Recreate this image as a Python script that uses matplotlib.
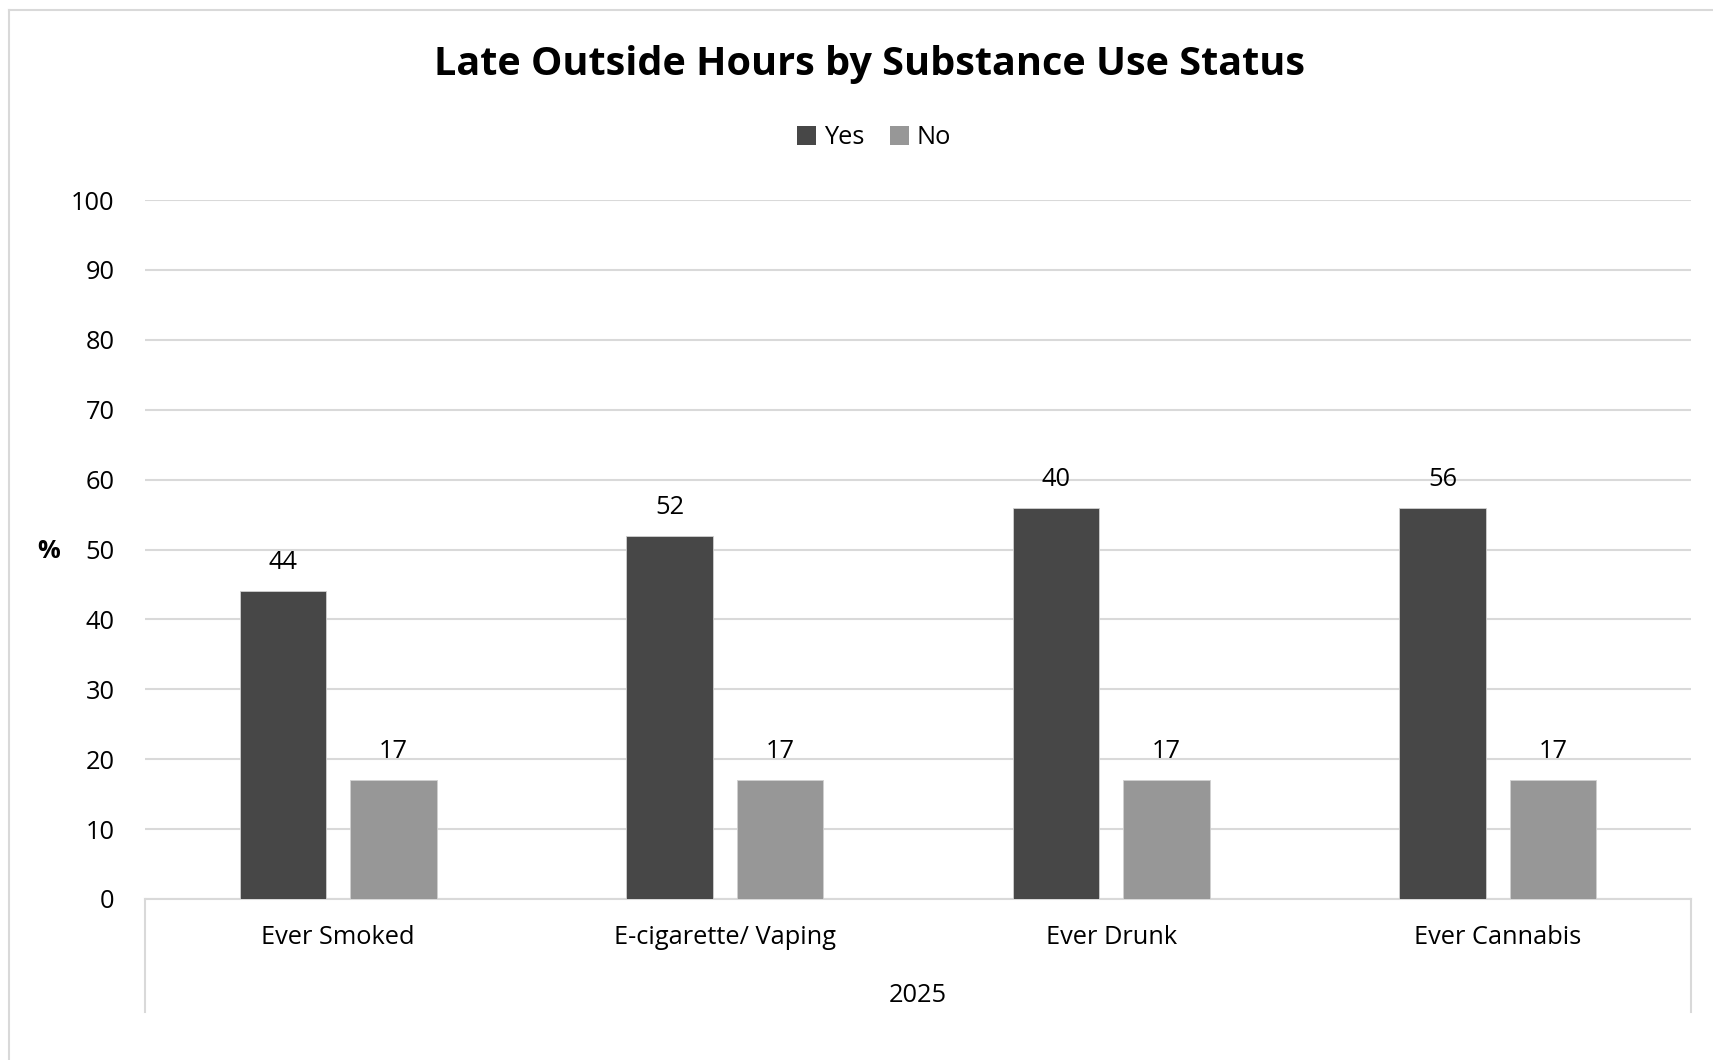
import matplotlib
matplotlib.use("Agg")
import matplotlib.pyplot as plt
from matplotlib.lines import Line2D
from matplotlib.patches import Patch
import numpy as np

categories = ["Ever Smoked", "E-cigarette/ Vaping", "Ever Drunk", "Ever Cannabis"]
yes_values = [44, 52, 56, 56]
no_values = [17, 17, 17, 17]
yes_labels = ["44", "52", "40", "56"]
no_labels = ["17", "17", "17", "17"]
series_names = ["Yes", "No"]
group_label = "2025"
title = "Late Outside Hours by Substance Use Status"
y_ticks = list(range(0, 101, 10))

FONT = "Open Sans"
plt.rcParams["font.family"] = [FONT, "DejaVu Sans"]

W, H = 1713, 1060
fig = plt.figure(figsize=(W / 100, H / 100), dpi=100)
fig.patch.set_facecolor("white")

# chart-area border (top and left only visible)
border_col = "#d9d9d9"
fig.add_artist(Line2D([9 / W, 1], [1 - 10 / H, 1 - 10 / H], transform=fig.transFigure,
                      color=border_col, linewidth=1.5))
fig.add_artist(Line2D([9 / W, 9 / W], [0, 1 - 10 / H], transform=fig.transFigure,
                      color=border_col, linewidth=1.5))

left, right, top, bottom = 145, 1691, 200, 899
ax = fig.add_axes([left / W, 1 - bottom / H, (right - left) / W, (bottom - top) / H])

x = np.arange(len(categories))
bw = 0.223
off = 0.143
yes_col = "#474747"
no_col = "#979797"
b1 = ax.bar(x - off, yes_values, bw, color=yes_col, edgecolor="#d0d0d0", linewidth=0.6, zorder=3)
b2 = ax.bar(x + off, no_values, bw, color=no_col, edgecolor="#d0d0d0", linewidth=0.6, zorder=3)

FS = 18.3
for rect, lab in zip(b1, yes_labels):
    ax.annotate(lab, (rect.get_x() + rect.get_width() / 2, rect.get_height()),
                xytext=(0, 20.5), textcoords="offset points", ha="center", va="center",
                fontsize=FS, color="black")
for rect, lab in zip(b2, no_labels):
    ax.annotate(lab, (rect.get_x() + rect.get_width() / 2, rect.get_height()),
                xytext=(0, 20.5), textcoords="offset points", ha="center", va="center",
                fontsize=FS, color="black")

ax.set_xlim(-0.5, len(categories) - 0.5)
ax.set_ylim(0, 100)
ax.set_yticks(y_ticks)
ax.tick_params(axis="y", length=0, pad=22, labelsize=FS)
ax.set_xticks(x)
ax.set_xticklabels(categories, fontsize=FS)
ax.tick_params(axis="x", length=0, pad=19)
ax.grid(axis="y", color=border_col, linewidth=1.5, zorder=0)
for s in ["top", "right", "left"]:
    ax.spines[s].set_visible(False)
ax.spines["bottom"].set_color(border_col)
ax.spines["bottom"].set_linewidth(1.5)

# multi-level category axis box lines
ext = (1012 - bottom) / (bottom - top)
for xa in (0, 1):
    ax.add_line(Line2D([xa, xa], [0, -ext], transform=ax.transAxes, color=border_col,
                       linewidth=1.5, clip_on=False))
ax.text(0.5, -(996 - bottom) / (bottom - top), group_label, transform=ax.transAxes,
        ha="center", va="center", fontsize=FS)

ax.text(-(left - 49) / (right - left), 1 - (552 - top) / (bottom - top), "%",
        transform=ax.transAxes, ha="center", va="center", fontsize=FS, fontweight="bold")

fig.text(870 / W, 1 - 64.5 / H, title, ha="center", va="center", fontsize=28.5, fontweight="bold")

handles = [Patch(facecolor=yes_col), Patch(facecolor=no_col)]
fig.legend(handles, series_names, loc="center", bbox_to_anchor=(874 / W, 1 - 138 / H),
           ncol=2, frameon=False, fontsize=FS, handlelength=0.75, handleheight=0.75,
           handletextpad=0.3, columnspacing=1.0)

fig.savefig("out.png", dpi=100)
